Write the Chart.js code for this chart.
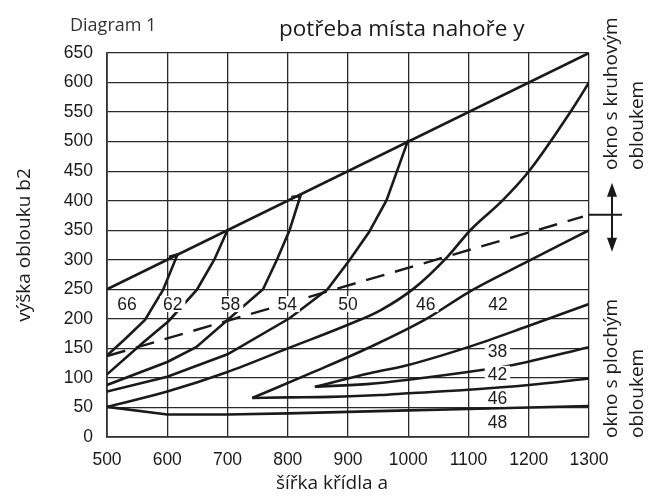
<!DOCTYPE html>
<html><head><meta charset="utf-8">
<script src="https://cdn.jsdelivr.net/npm/chart.js@4"></script>
<style>html,body{margin:0;padding:0;background:#fff}#wrap{width:648px;height:502px;position:relative}</style>
</head><body><div id="wrap"><canvas id="c"></canvas></div>
<script>
// ---- data ----
const xTicks = [500, 600, 700, 800, 900, 1000, 1100, 1200, 1300];
const yTicks = [0, 50, 100, 150, 200, 250, 300, 350, 400, 450, 500, 550, 600, 650];

const envelope = [[500,250],[1300,650]];
const dashedLimit = [[500,137],[1290,373]];
const curveA = [[500,138],[530,166],[563,198],[593,249],[617,309],[603,305]];
const curveB = [[500,106],[560,160],[602,196],[649,249],[678,300],[700,350]];
const curveC = [[500,88],[600,127],[648,152],[701,199],[759,250],[782,300],[803,350],[821,408],[806,406]];
const curveD = [[500,77],[600,102],[700,140],[803,201],[866,250],[903,300],[935,347],[964,401],[1000,503]];
const curveE = [[500,51],[600,77],[700,110],[800,150],[900,190],[953,214],[1010,252],[1065,305],[1103,350],[1157,401],[1202,452],[1271,553],[1300,600]];
const curveH = [[741,66],[845,111],[936,152],[1030,200],[1100,245],[1200,298],[1300,350]];
const curveK = [[741,66],[800,67],[870,68],[953,71],[1000,74],[1100,80],[1200,88],[1300,99]];
const curveI = [[845,85],[936,108],[1000,122],[1102,153],[1197,187],[1300,225]];
const curveJ = [[845,85],[936,90],[1000,97],[1119,113],[1174,122],[1300,152]];
const curveF = [[500,51],[600,38],[700,38],[800,40],[900,42.5],[1000,45],[1100,47.5],[1200,50],[1300,52.5]];

const regionLabels = [['66',533,225],['62',609,225],['58',705,225],['54',799,225],['50',900,225],['46',1029,225],['42',1149,225]];
const lowerLabels = [['38',1148,145.5],['42',1148,107],['46',1148,66],['48',1148,26]];

const diagramText = 'Diagram 1';
const titleText = 'potřeba místa nahoře y';
const xTitle = 'šířka křídla a';
const yTitle = 'výška oblouku b2';
const upperNote = ['okno s kruhovým', 'obloukem'];
const lowerNote = ['okno s plochým', 'obloukem'];
const boundaryValue = 376;

// ---- chart ----
const toPts = a => a.map(p => ({x: p[0], y: p[1]}));
const ink = '#1a1a1a';
function ds(arr, extra) {
  return Object.assign({data: toPts(arr), showLine: true, borderColor: ink, borderWidth: 2.6,
    pointRadius: 0, fill: false, tension: 0}, extra || {});
}

const overlay = {
  id: 'overlay',
  afterDatasetsDraw(chart) {
    const {ctx, scales: {x, y}} = chart;
    ctx.save();
    const fs = 17.5;
    ctx.font = fs + 'px "Liberation Sans"';
    ctx.textAlign = 'center';
    ctx.textBaseline = 'alphabetic';
    for (const [t, vx, vy] of regionLabels.concat(lowerLabels)) {
      const px = x.getPixelForValue(vx), py = y.getPixelForValue(vy);
      const w = ctx.measureText(t).width;
      ctx.fillStyle = '#fff';
      ctx.fillRect(px - w / 2 - 3, py - 8, w + 6, 16);
      ctx.fillStyle = ink;
      ctx.fillText(t, px, py + fs * 0.716 / 2);
    }
    ctx.restore();
  },
  afterDraw(chart) {
    const {ctx, scales: {x, y}} = chart;
    ctx.save();
    ctx.fillStyle = ink;
    ctx.textBaseline = 'alphabetic';
    ctx.textAlign = 'left';
    ctx.font = '18px "Open Sans"';
    ctx.fillStyle = '#333';
    ctx.fillText(diagramText, 70, 31);
    ctx.fillStyle = ink;
    ctx.font = '22.5px "Open Sans"';
    ctx.fillText(titleText, 279, 36);
    ctx.font = '19px "Open Sans"';
    ctx.textAlign = 'center';
    ctx.fillText(xTitle, 332, 489);
    // rotated texts
    const rot = (t, cx, cy, align) => {
      ctx.save();
      ctx.translate(cx, cy);
      ctx.rotate(-Math.PI / 2);
      ctx.textAlign = align;
      ctx.textBaseline = 'middle';
      ctx.fillText(t, 0, 0);
      ctx.restore();
    };
    rot(yTitle, 25, 245, 'center');
    rot(upperNote[0], 612, 170, 'left');
    rot(upperNote[1], 638, 170, 'left');
    rot(lowerNote[0], 612, 438, 'left');
    rot(lowerNote[1], 638, 438, 'left');
    // boundary mark with double arrow
    const by = y.getPixelForValue(boundaryValue);
    const ax = 612;
    ctx.strokeStyle = ink;
    ctx.lineWidth = 2;
    ctx.beginPath();
    ctx.moveTo(x.right, by); ctx.lineTo(622, by);
    ctx.moveTo(ax, by - 20); ctx.lineTo(ax, by + 25);
    ctx.stroke();
    ctx.beginPath();
    ctx.moveTo(ax, by - 32); ctx.lineTo(ax - 5, by - 18); ctx.lineTo(ax + 5, by - 18); ctx.closePath();
    ctx.moveTo(ax, by + 37); ctx.lineTo(ax - 5, by + 23); ctx.lineTo(ax + 5, by + 23); ctx.closePath();
    ctx.fill();
    ctx.restore();
  }
};

new Chart(document.getElementById('c'), {
  type: 'scatter',
  data: {
    datasets: [
      ds(envelope), ds(dashedLimit, {borderDash: [19, 11], borderWidth: 2.4}),
      ds(curveA), ds(curveB), ds(curveC), ds(curveD),
      ds(curveE, {cubicInterpolationMode: 'monotone'}),
      ds(curveH, {cubicInterpolationMode: 'monotone'}),
      ds(curveK, {cubicInterpolationMode: 'monotone'}),
      ds(curveI, {cubicInterpolationMode: 'monotone'}),
      ds(curveJ, {cubicInterpolationMode: 'monotone'}),
      ds(curveF)
    ]
  },
  options: {
    responsive: true, maintainAspectRatio: false, animation: false,
    layout: {padding: {top: 53, right: 59, left: 0, bottom: 0}},
    plugins: {legend: {display: false}, tooltip: {enabled: false}},
    scales: {
      x: {
        type: 'linear', min: 500, max: 1300,
        afterBuildTicks: s => { s.ticks = xTicks.map(v => ({value: v})); },
        afterFit: s => { s.height = 65; },
        grid: {color: '#2a2a2a', lineWidth: 1.3, drawTicks: false},
        border: {color: '#333', width: 1.8},
        ticks: {padding: 13, color: ink, font: {family: 'Liberation Sans', size: 17.5}, maxRotation: 0, autoSkip: false,
          callback: v => String(v)}
      },
      y: {
        type: 'linear', min: 0, max: 650,
        afterBuildTicks: s => { s.ticks = yTicks.map(v => ({value: v})); },
        afterFit: s => { s.width = 107; },
        grid: {color: '#2a2a2a', lineWidth: 1.3, drawTicks: false},
        border: {color: '#333', width: 1.8},
        ticks: {padding: 14, color: ink, font: {family: 'Liberation Sans', size: 17.5}, autoSkip: false,
          callback: v => String(v)}
      }
    }
  },
  plugins: [overlay]
});
</script>
</body></html>
